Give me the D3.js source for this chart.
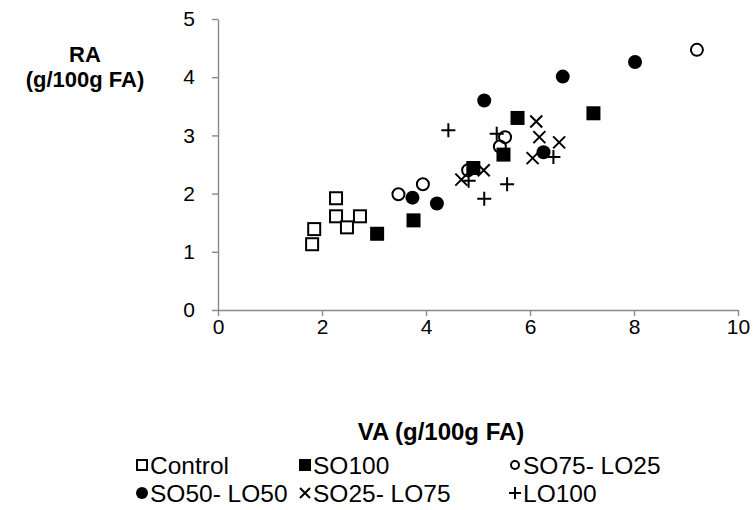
<!DOCTYPE html>
<head>
    <title>RA vs VA</title>
    <style>
        body { margin: 0; background: white; }
        svg { display: block; font-family: "Liberation Sans", Arial, sans-serif; }
    </style>
    <script src="https://d3js.org/d3.v7.min.js"></script>
</head>
<body>
    <svg width="756" height="510"></svg>
    <script>
        // series names, same order as the legend
        const categories = ["Control", "SO100", "SO75- LO25", "SO50- LO50", "SO25- LO75", "LO100"];

        // VA (x) and RA (y) values, g/100g FA
        const controlVA = [1.81, 1.85, 2.27, 2.27, 2.48, 2.73];
        const controlRA = [1.13, 1.39, 1.92, 1.61, 1.42, 1.61];
        const so100VA = [3.06, 3.76, 4.91, 5.49, 5.76, 7.22];
        const so100RA = [1.31, 1.54, 2.44, 2.67, 3.30, 3.38];
        const so75VA = [3.47, 3.94, 4.81, 5.42, 5.52, 9.21];
        const so75RA = [1.99, 2.16, 2.40, 2.81, 2.97, 4.47];
        const so50VA = [3.74, 4.21, 5.12, 6.26, 6.63, 8.02];
        const so50RA = [1.93, 1.83, 3.60, 2.71, 4.01, 4.26];
        const so25VA = [4.68, 5.11, 6.05, 6.12, 6.18, 6.56];
        const so25RA = [2.24, 2.40, 2.61, 3.24, 2.97, 2.88];
        const lo100VA = [4.43, 4.82, 5.12, 5.36, 5.56, 6.45];
        const lo100RA = [3.09, 2.22, 1.91, 3.03, 2.16, 2.63];

        const xTicks = [0, 2, 4, 6, 8, 10];
        const yTicks = [0, 1, 2, 3, 4, 5];

        const seriesVA = [controlVA, so100VA, so75VA, so50VA, so25VA, lo100VA];
        const seriesRA = [controlRA, so100RA, so75RA, so50RA, so25RA, lo100RA];
        const shapes = ["openSquare", "square", "openCircle", "circle", "cross", "plus"];

        var svg = d3.select("svg");
        var axisColor = "#898989";

        var x = d3.scaleLinear().domain([0, 10]).range([218, 738]);
        var y = d3.scaleLinear().domain([0, 5]).range([310, 19]);

        // y axis
        var gy = svg.append("g")
            .attr("transform", "translate(" + x(0) + ",0)")
            .call(d3.axisLeft(y).tickValues(yTicks).tickFormat(d3.format("d"))
                .tickSize(6).tickSizeOuter(0).tickPadding(17));
        // x axis
        var gx = svg.append("g")
            .attr("transform", "translate(0," + y(0) + ")")
            .call(d3.axisBottom(x).tickValues(xTicks).tickFormat(d3.format("d"))
                .tickSize(6).tickSizeOuter(0).tickPadding(3));

        [gx, gy].forEach(g => {
            g.select(".domain").attr("stroke", axisColor).attr("stroke-width", 1.4);
            g.selectAll(".tick line").attr("stroke", axisColor).attr("stroke-width", 1.4);
            g.selectAll(".tick text").attr("font-size", "21px").attr("fill", "#000")
                .attr("font-family", "'Liberation Sans', Arial, sans-serif");
        });

        // draws one marker at (cx, cy), s = size
        function marker(g, shape, cx, cy, s) {
            var h = s / 2;
            if (shape == "openSquare") {
                g.append("rect").attr("x", cx - h + 1).attr("y", cy - h + 1)
                    .attr("width", s - 2).attr("height", s - 2)
                    .attr("fill", "white").attr("stroke", "black").attr("stroke-width", 2);
            } else if (shape == "square") {
                g.append("rect").attr("x", cx - h).attr("y", cy - h)
                    .attr("width", s).attr("height", s).attr("fill", "black");
            } else if (shape == "openCircle") {
                g.append("circle").attr("cx", cx).attr("cy", cy).attr("r", h - 1)
                    .attr("fill", "none").attr("stroke", "black").attr("stroke-width", 2);
            } else if (shape == "circle") {
                g.append("circle").attr("cx", cx).attr("cy", cy).attr("r", h).attr("fill", "black");
            } else if (shape == "cross") {
                var k = h - 1;
                g.append("path").attr("d", "M" + (cx - k) + "," + (cy - k) + "L" + (cx + k) + "," + (cy + k) +
                    "M" + (cx - k) + "," + (cy + k) + "L" + (cx + k) + "," + (cy - k))
                    .attr("stroke", "black").attr("stroke-width", 2).attr("fill", "none");
            } else {
                g.append("path").attr("d", "M" + (cx - h) + "," + cy + "L" + (cx + h) + "," + cy +
                    "M" + cx + "," + (cy - h) + "L" + cx + "," + (cy + h))
                    .attr("stroke", "black").attr("stroke-width", 2).attr("fill", "none");
            }
        }

        var pts = svg.append("g");
        seriesVA.forEach((vals, i) => {
            vals.forEach((v, j) => marker(pts, shapes[i], x(v), y(seriesRA[i][j]), 14));
        });

        // axis titles
        svg.append("text").attr("x", 85).attr("y", 62).attr("text-anchor", "middle")
            .attr("font-size", "22px").attr("font-weight", "bold").text("RA");
        svg.append("text").attr("x", 85).attr("y", 87).attr("text-anchor", "middle")
            .attr("font-size", "22px").attr("font-weight", "bold").text("(g/100g FA)");
        svg.append("text").attr("x", 441).attr("y", 440).attr("text-anchor", "middle")
            .attr("font-size", "24px").attr("font-weight", "bold").text("VA (g/100g FA)");

        // legend, 3 columns x 2 rows
        var legX = [142, 305, 515];
        var legY = [465, 493];
        var leg = svg.append("g");
        categories.forEach((name, i) => {
            var cx = legX[i % 3], cy = legY[Math.floor(i / 3)];
            marker(leg, shapes[i], cx, cy, shapes[i] == "openCircle" ? 10 : 12);
            leg.append("text").attr("x", cx + 8).attr("y", cy + 8.5)
                .attr("font-size", "24.5px").text(name);
        });
    </script>
</body>
</html>
